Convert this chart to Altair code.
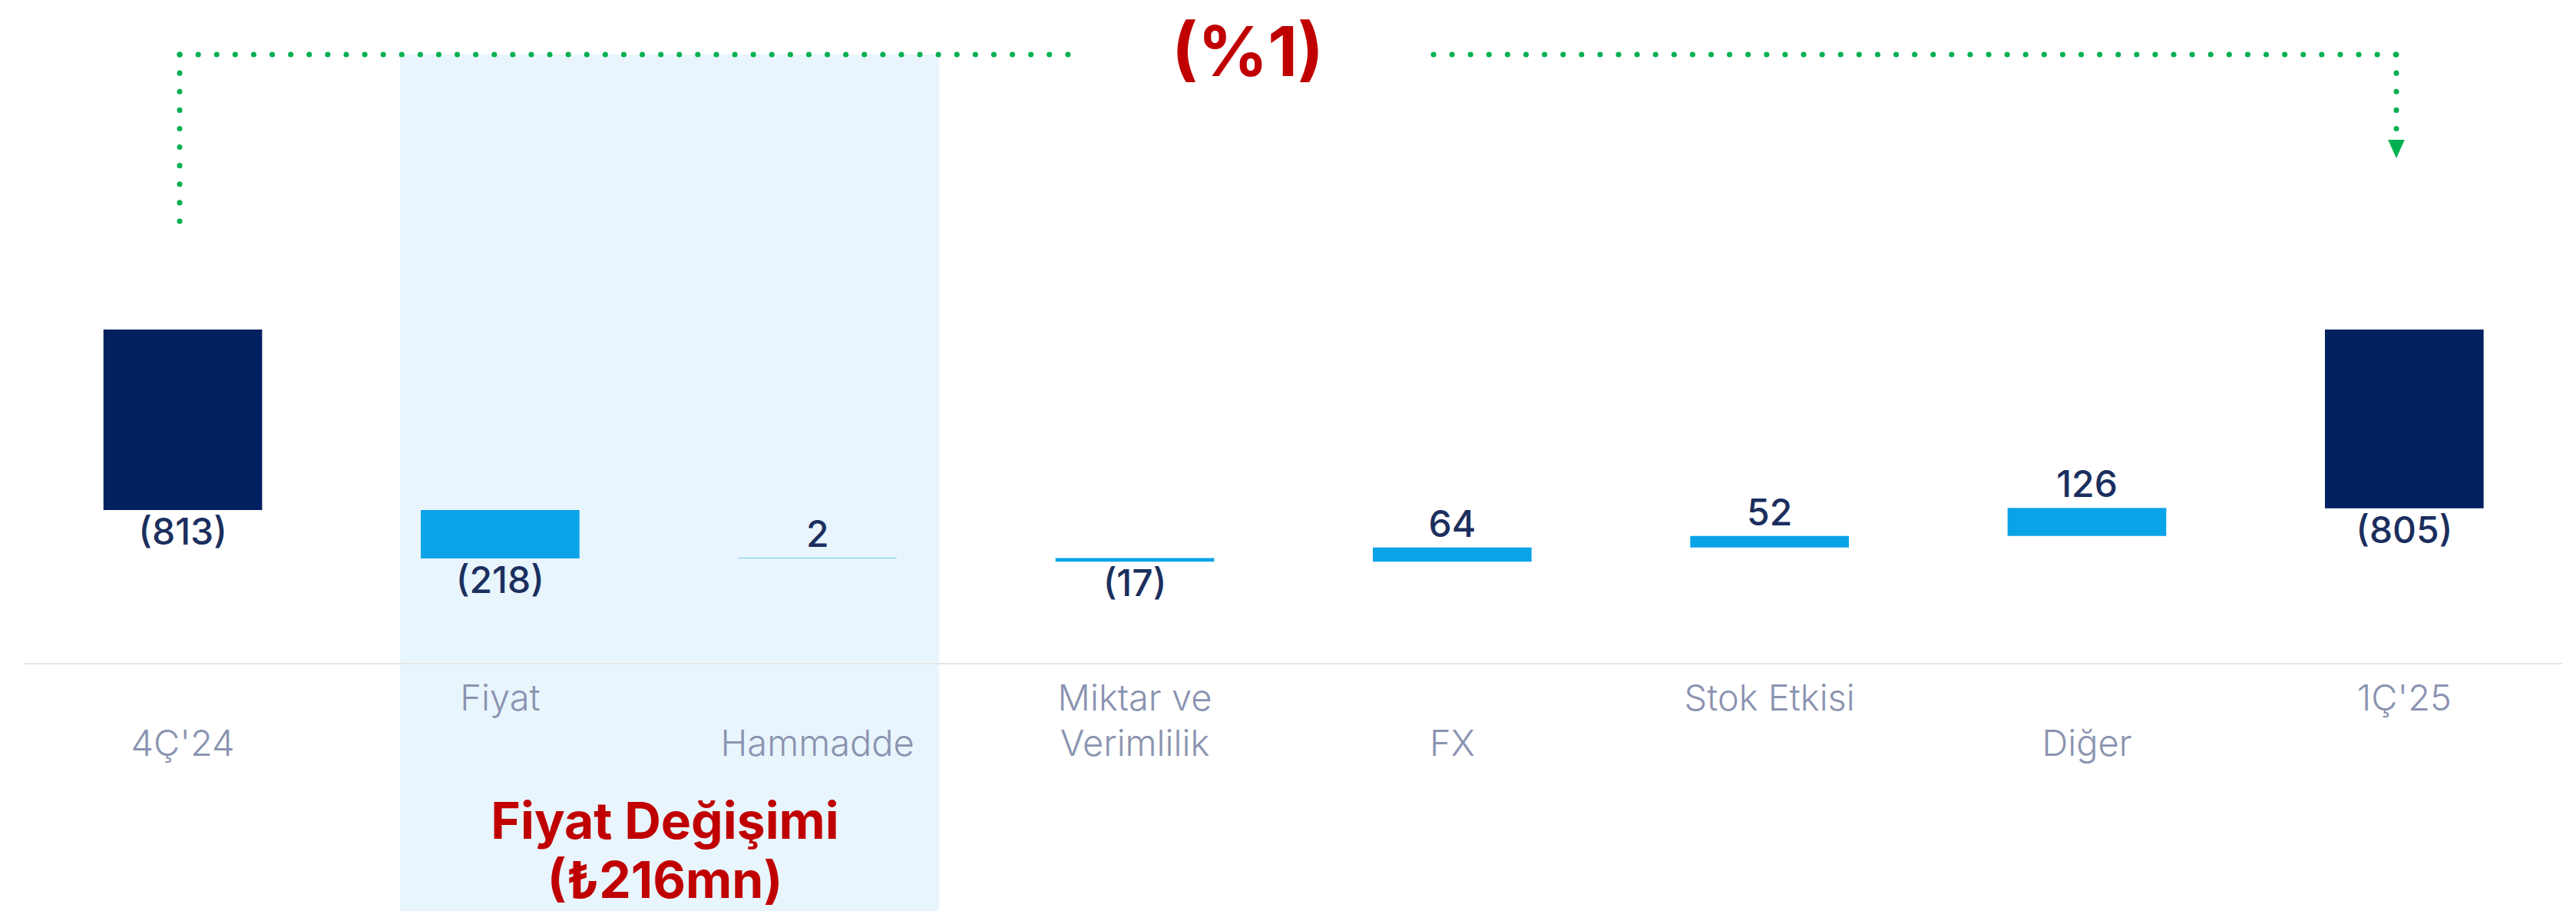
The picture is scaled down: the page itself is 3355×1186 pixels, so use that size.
import altair as alt
import pandas as pd

# ---- data ----
categories = ["4Ç'24", "Fiyat", "Hammadde", "Miktar ve Verimlilik", "FX", "Stok Etkisi", "Diğer", "1Ç'25"]
values = [-813, -218, 2, -17, 64, 52, 126, -805]
kinds = ["total", "delta", "delta", "delta", "delta", "delta", "delta", "total"]
axis_labels = ["4Ç'24", "Fiyat", "Hammadde", "Miktar ve\nVerimlilik", "FX", "Stok Etkisi", "Diğer", "1Ç'25"]
label_rows = ["lower", "upper", "lower", "upper", "lower", "upper", "lower", "upper"]
change_text = ["(%1)"]
group_title = ["Fiyat Değişimi\n(₺216mn)"]

# ---- build waterfall table ----
rows = []
running = 0
for c, v, k, lab, r in zip(categories, values, kinds, axis_labels, label_rows):
    if k == "total":
        start, end = 0, v
        running = v
    else:
        start, end = running, running + v
        running = end
    rows.append(dict(cat=c, value=v, kind=k, start=start, end=end,
                     low=min(start, end), high=max(start, end),
                     label=f"({abs(v)})" if v < 0 else f"{v}",
                     axis_label=lab, row=r))
df = pd.DataFrame(rows)

FONT = "Inter, Noto Sans, DejaVu Sans"
NAVY = "#002060"
LIGHT = "#0BA3E8"
TXT = "#1B2F5E"
CAT = "#8A93B0"
GREEN = "#00B050"
RED = "#C00000"

x_scale = alt.Scale(domain=categories, range=[31.4, 3338], paddingInner=0.5, paddingOuter=0.25)
y_scale = alt.Scale(domain=[-1500, 0], range=[862.5, 429], nice=False, zero=False)

X = alt.X("cat:N", scale=x_scale, axis=None, sort=categories)

one = pd.DataFrame({"a": [0]})

highlight = alt.Chart(one).mark_rect(color="#E8F5FD").encode(
    x=alt.value(521), x2=alt.value(1223), y=alt.value(71), y2=alt.value(1186))

baseline = alt.Chart(one).mark_rule(color="#E6E6E6", strokeWidth=2).encode(
    x=alt.value(32), x2=alt.value(3337), y=alt.value(864))

bars = alt.Chart(df).mark_bar().encode(
    x=X,
    y=alt.Y("start:Q", scale=y_scale, axis=None),
    y2="end:Q",
    color=alt.Color("kind:N", scale=alt.Scale(domain=["total", "delta"], range=[NAVY, LIGHT]), legend=None),
)

neg_labels = alt.Chart(df).transform_filter("datum.value < 0").mark_text(
    baseline="alphabetic", align="center", dy=45, fontSize=48, fontWeight=500, font=FONT, color=TXT
).encode(x=X, y=alt.Y("low:Q", scale=y_scale, axis=None), text="label:N")

pos_labels = alt.Chart(df).transform_filter("datum.value > 0").mark_text(
    baseline="alphabetic", align="center", dy=-14, fontSize=48, fontWeight=500, font=FONT, color=TXT
).encode(x=X, y=alt.Y("high:Q", scale=y_scale, axis=None), text="label:N")

cat_upper = alt.Chart(df).transform_filter("datum.row == 'upper'").mark_text(
    baseline="alphabetic", align="center", fontSize=47, fontWeight=300, font=FONT, color=CAT,
    lineBreak="\n", lineHeight=59
).encode(x=X, y=alt.value(925), text="axis_label:N")

cat_lower = alt.Chart(df).transform_filter("datum.row == 'lower'").mark_text(
    baseline="alphabetic", align="center", fontSize=47, fontWeight=300, font=FONT, color=CAT,
    lineBreak="\n", lineHeight=59
).encode(x=X, y=alt.value(984), text="axis_label:N")

dot = dict(color=GREEN, strokeWidth=7, strokeDash=[0.1, 24], strokeCap="round")
left_v = alt.Chart(one).mark_rule(**dot).encode(x=alt.value(234), y=alt.value(71), y2=alt.value(290))
left_h = alt.Chart(one).mark_rule(**dot).encode(x=alt.value(234), x2=alt.value(1400), y=alt.value(71))
right_h = alt.Chart(one).mark_rule(**dot).encode(x=alt.value(1867), x2=alt.value(3121), y=alt.value(71))
right_v = alt.Chart(one).mark_rule(**dot).encode(x=alt.value(3121), y=alt.value(71), y2=alt.value(172))
arrow = alt.Chart(one).mark_point(
    shape="M-0.9,-1L0.9,-1L0,1Z", filled=True, color=GREEN, size=576, opacity=1
).encode(x=alt.value(3121), y=alt.value(194))

change = alt.Chart(pd.DataFrame({"t": change_text})).mark_text(
    fontSize=90, fontWeight="bold", font=FONT, color=RED, baseline="alphabetic", align="center"
).encode(x=alt.value(1625), y=alt.value(99), text="t:N")

group = alt.Chart(pd.DataFrame({"t": group_title})).mark_text(
    fontSize=66, fontWeight="bold", font=FONT, color=RED, baseline="alphabetic", align="center",
    lineBreak="\n", lineHeight=77
).encode(x=alt.value(866), y=alt.value(1092), text="t:N")

chart = alt.layer(
    highlight, baseline, left_v, left_h, right_h, right_v, arrow,
    bars, neg_labels, pos_labels, cat_upper, cat_lower, change, group
).properties(
    width=3355, height=1186, padding=0, autosize=alt.AutoSizeParams(type="none")
).configure_view(stroke=None)

chart.save("out.html", embed_options={"renderer": "svg", "actions": False})
